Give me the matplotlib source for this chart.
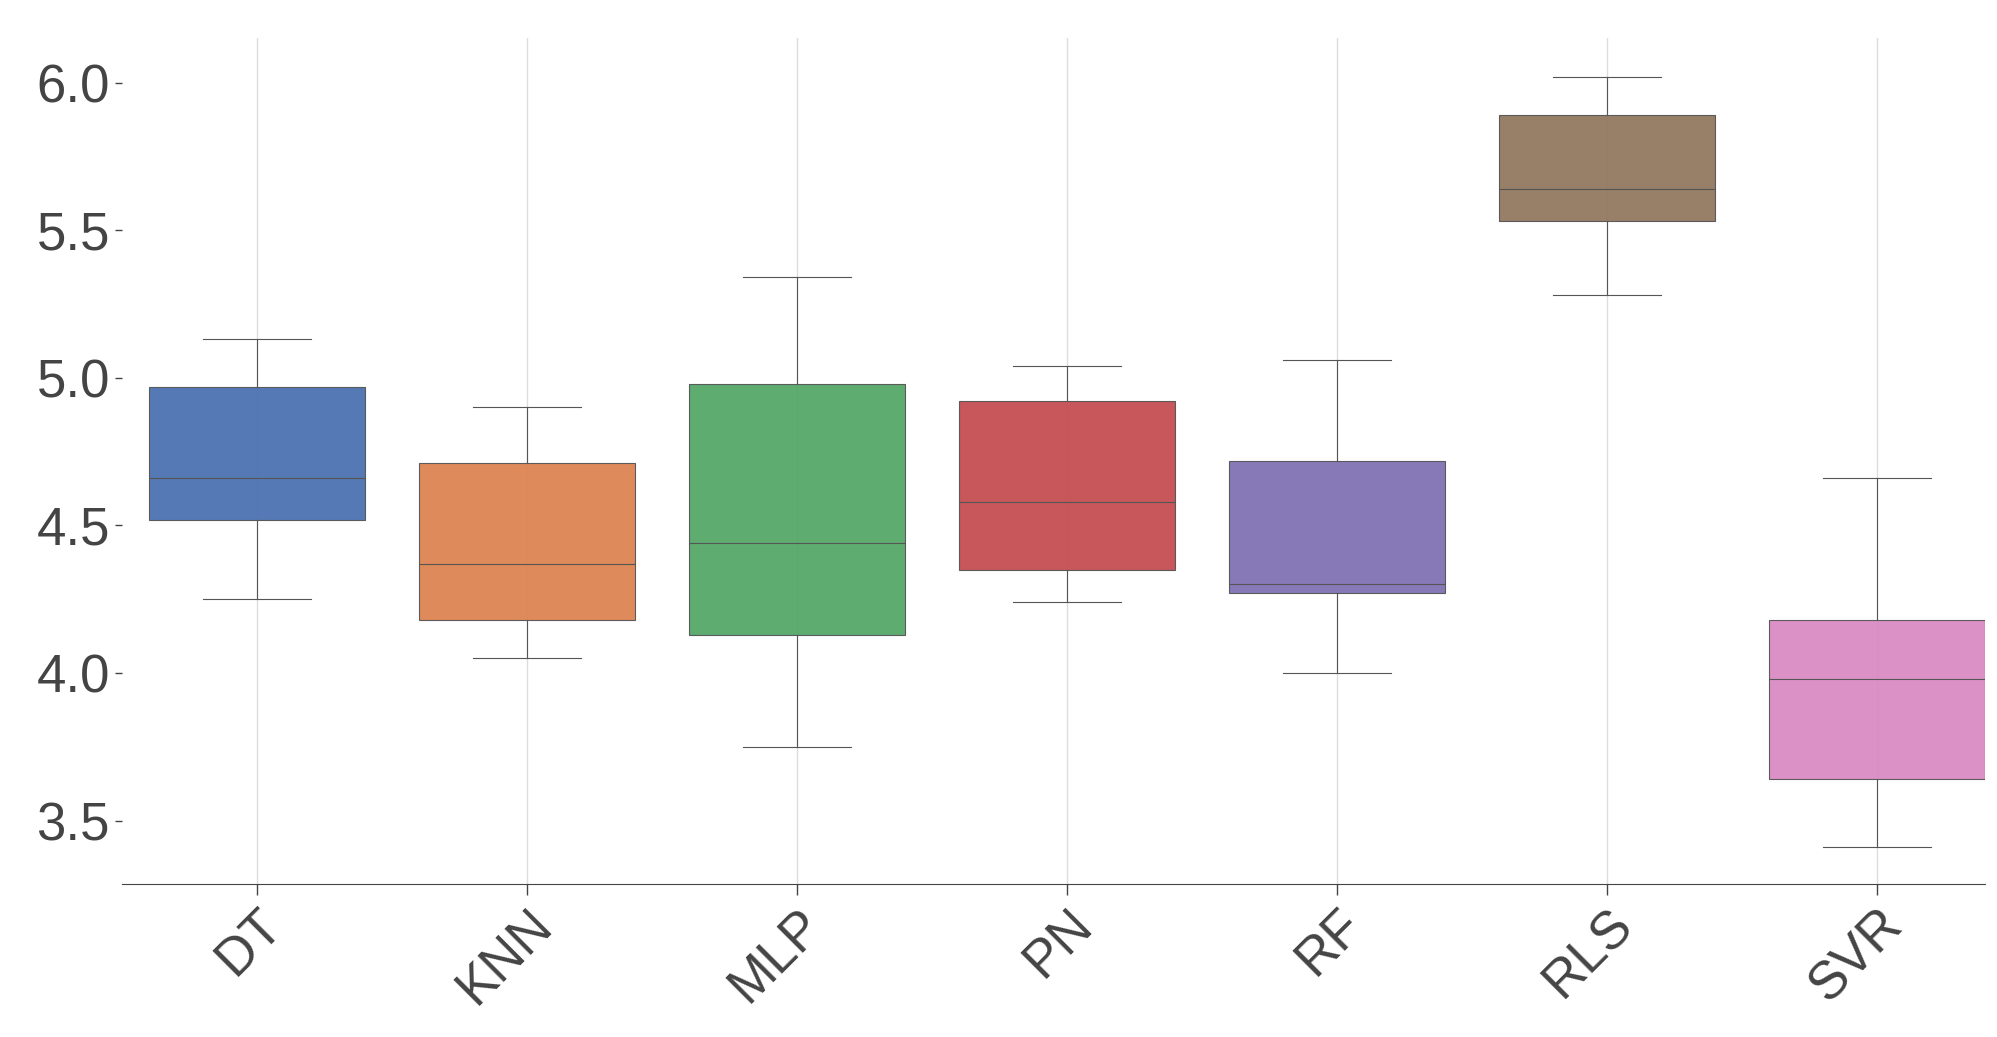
import matplotlib
matplotlib.use("Agg")
import matplotlib.pyplot as plt

models = ["DT", "KNN", "MLP", "PN", "RF", "RLS", "SVR"]
whislo = [4.25, 4.05, 3.75, 4.24, 4.00, 5.28, 3.41]
q1     = [4.52, 4.18, 4.13, 4.35, 4.27, 5.53, 3.64]
med    = [4.66, 4.37, 4.44, 4.58, 4.30, 5.64, 3.98]
q3     = [4.97, 4.71, 4.98, 4.92, 4.72, 5.89, 4.18]
whishi = [5.13, 4.90, 5.34, 5.04, 5.06, 6.02, 4.66]
colors = ["#4c72b0", "#dd8452", "#55a868", "#c44e52", "#8172b3", "#937860", "#da8bc3"]

stats = [dict(label=m, whislo=a, q1=b, med=c, q3=d, whishi=e, fliers=[])
         for m, a, b, c, d, e in zip(models, whislo, q1, med, q3, whishi)]

plt.rcParams['font.family'] = ['Liberation Sans', 'DejaVu Sans']
fig = plt.figure(figsize=(19.97, 10.37), dpi=100)
ax = fig.add_axes([0.061, 0.148, 0.933, 0.815])
ax.set_axisbelow(True)
ax.grid(axis='x', color='#dddddd', lw=1)
bp = ax.bxp(stats, positions=range(len(models)), widths=0.8, patch_artist=True,
            showfliers=False,
            boxprops=dict(edgecolor='#555555', lw=0.8),
            medianprops=dict(color='#555555', lw=0.8),
            whiskerprops=dict(color='#555555', lw=0.8),
            capprops=dict(color='#555555', lw=0.8), capwidths=0.4)
for p, c in zip(bp['boxes'], colors):
    p.set_facecolor(c); p.set_alpha(0.95)
ax.set_xlim(-0.5, 6.4)
ax.set_ylim(3.287, 6.15)
ax.set_yticks([3.5, 4.0, 4.5, 5.0, 5.5, 6.0])
ax.set_xticks(range(len(models)))
ax.set_xticklabels(models, rotation=45, ha='right', rotation_mode='anchor')
for s in ['left', 'top', 'right']:
    ax.spines[s].set_visible(False)
ax.spines['bottom'].set_color('#444444')
ax.tick_params(axis='both', labelsize=38, colors='#444444', length=8, width=1)
ax.tick_params(axis='y', length=5)
plt.savefig("out.png", dpi=100)
